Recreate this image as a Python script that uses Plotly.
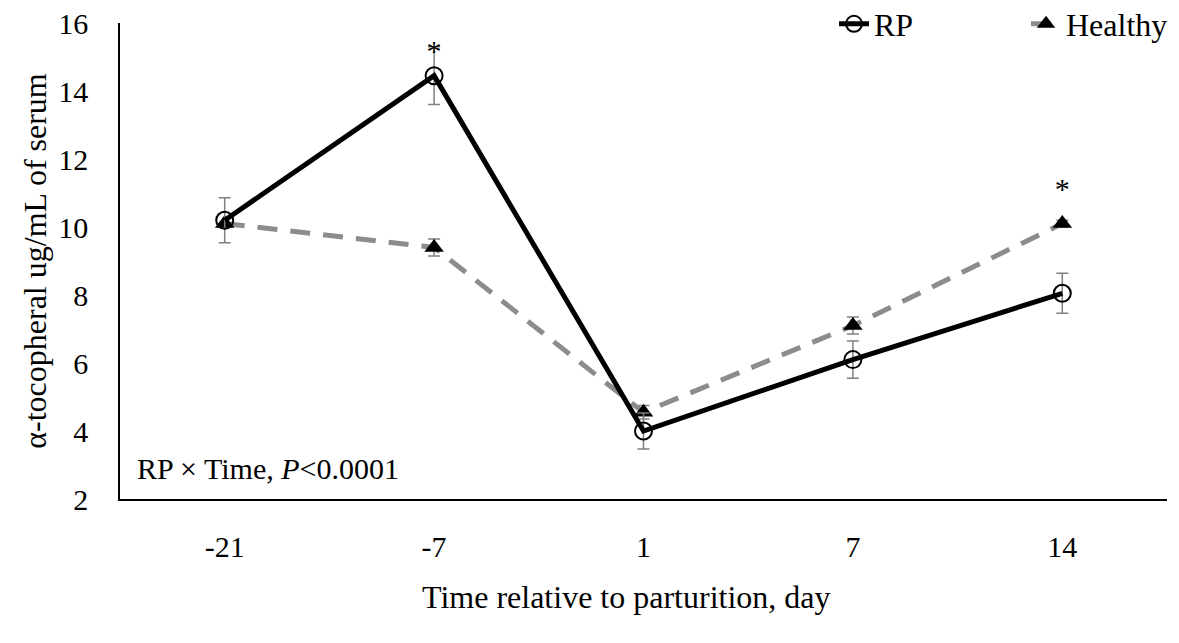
import plotly.graph_objects as go

days = ["-21", "-7", "1", "7", "14"]
rp_vals = [10.2, 14.45, 4.0, 6.1, 8.05]
rp_err = [0.66, 0.85, 0.53, 0.55, 0.59]
healthy_vals = [10.1, 9.4, 4.55, 7.1, 10.1]
healthy_err = [0.0, 0.25, 0.2, 0.25, 0.1]
y_ticks = [2, 4, 6, 8, 10, 12, 14, 16]
sig_days = ["-7", "14"]
sig_y = [15.1, 11.03]

FONT = "Liberation Serif, Times New Roman, serif"

fig = go.Figure()
fig.add_trace(go.Scatter(
    x=days, y=healthy_vals, name="Healthy", mode="lines+markers",
    line=dict(color="#8c8c8c", width=5, dash="20px,13px"),
    marker=dict(symbol="triangle-up", size=17, color="black"),
    error_y=dict(type="data", array=healthy_err, color="#808080", thickness=1.5, width=6),
))
fig.add_trace(go.Scatter(
    x=days, y=rp_vals, name="RP", mode="lines+markers",
    line=dict(color="black", width=5),
    marker=dict(symbol="circle", size=17, color="rgba(255,255,255,0)",
                line=dict(color="black", width=2)),
    error_y=dict(type="data", array=rp_err, color="#808080", thickness=1.5, width=6),
))
fig.add_trace(go.Scatter(
    x=sig_days, y=sig_y, mode="text", text=["*", "*"], showlegend=False,
    textfont=dict(family=FONT, size=30, color="black"), hoverinfo="skip",
    cliponaxis=False,
))

fig.update_layout(
    width=1179, height=643, plot_bgcolor="white", paper_bgcolor="white",
    margin=dict(l=112, r=20, t=15, b=152, autoexpand=False),
    font=dict(family=FONT, size=30, color="black"),
    legend=dict(orientation="h", xref="container", yref="container",
                x=0.7006, xanchor="left", y=1 - 16 / 643, yanchor="middle",
                font=dict(size=32), traceorder="reversed", bgcolor="rgba(0,0,0,0)",
                itemwidth=30, entrywidth=147),
    showlegend=True,
)
fig.update_xaxes(type="category", range=[-0.5, 4.5], showline=True, linecolor="black",
                 linewidth=1.5, ticks="", showgrid=False, ticklabelstandoff=20,
                 automargin=False)
fig.update_yaxes(range=[2, 16], tickvals=y_ticks, showline=True, linecolor="black",
                 linewidth=1.5, ticks="", showgrid=False, zeroline=False,
                 ticklabelstandoff=24, automargin=False, ticklabeloverflow="allow",
                 title=dict(text="α-tocopheral ug/mL of serum", standoff=2,
                            font=dict(size=32)))
fig.add_annotation(xref="paper", yref="paper", x=0.014, y=0.065, xanchor="left",
                   yanchor="middle", showarrow=False,
                   text="RP × Time, <i>P</i><0.0001", font=dict(size=30))
fig.add_annotation(xref="paper", yref="paper", x=0.484, y=-0.206, xanchor="center",
                   yanchor="middle", showarrow=False,
                   text="Time relative to parturition, day", font=dict(size=32))
fig.write_html("out.html")
